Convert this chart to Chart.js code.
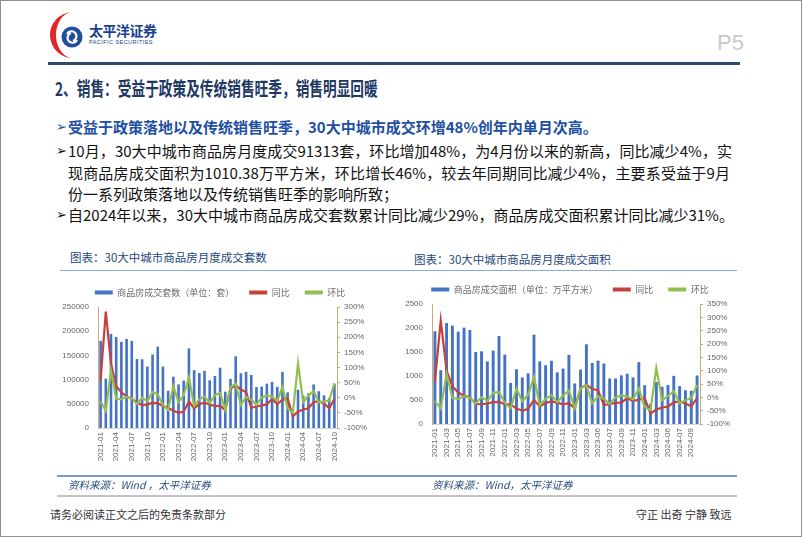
<!DOCTYPE html>
<html><head><meta charset="utf-8">
<script src="https://cdn.jsdelivr.net/npm/chart.js@4.4.1/dist/chart.umd.min.js"></script>
<style>
html,body{margin:0;padding:0;background:#fff;}
#slide{position:relative;width:802px;height:537px;overflow:hidden;background:#fff;font-family:"Noto Sans CJK SC",sans-serif;}
.frame{position:absolute;left:0;top:0;width:802px;height:537px;box-sizing:border-box;border:1px solid #8f8f8f;pointer-events:none;}
.abs{position:absolute;white-space:nowrap;}
.body{font-size:15px;line-height:20px;color:#111;}
.just{text-align:justify;text-align-last:justify;}
.arrow{font-family:"DejaVu Sans",sans-serif;font-size:13px;line-height:20px;}
.rule{position:absolute;}
canvas{position:absolute;}
</style></head><body>
<div id="slide">
  <svg class="abs" style="left:46px;top:11px" width="44" height="48" viewBox="0 0 44 48">
    <path d="M26 1 A23 23 0 0 0 28 47 A17 23 0 0 1 26 1 Z" fill="#E3262B"/>
    <circle cx="26" cy="26" r="10.5" fill="#1F4E9D"/>
    <path d="M21 23 A5 5 0 1 1 27 30" stroke="#fff" stroke-width="2.2" fill="none"/>
    <path d="M31 29 A5 5 0 1 1 25 22" stroke="#fff" stroke-width="2.2" fill="none"/>
  </svg>
  <div class="abs" style="left:89px;top:21px;font-size:14px;font-weight:bold;color:#1B3F8F;letter-spacing:-0.5px;line-height:18px">太平洋证券</div>
  <div class="abs" style="left:89px;top:38px;font-family:'Liberation Sans',sans-serif;font-size:5.6px;color:#1B3F8F;letter-spacing:0.4px;line-height:8px">PACIFIC SECURITIES</div>
  <div class="abs" style="left:717px;top:30px;font-family:'Liberation Sans',sans-serif;font-size:22px;color:#C9C9C9;line-height:26px">P5</div>
  <div class="rule" style="left:48px;top:62px;width:692px;height:3px;background:#2E4B6E"></div>
  <div class="abs" style="left:55px;top:75px;font-size:19px;font-weight:bold;color:#1F3864;line-height:26px;transform:scaleX(0.72);transform-origin:left center">2、销售：受益于政策及传统销售旺季，销售明显回暖</div>

  <div class="abs arrow" style="left:56px;top:117px;color:#1E4FA2">➢</div>
  <div class="abs body" style="left:68px;top:117px;color:#1E4FA2;font-weight:bold">受益于政策落地以及传统销售旺季，30大中城市成交环增48%创年内单月次高。</div>
  <div class="abs arrow" style="left:56px;top:141px;color:#111">➢</div>
  <div class="abs body just" style="left:68px;top:141px;width:664px">10月，30大中城市商品房月度成交91313套，环比增加48%，为4月份以来的新高，同比减少4%，实</div>
  <div class="abs body just" style="left:68px;top:163px;width:662px">现商品房成交面积为1010.38万平方米，环比增长46%，较去年同期同比减少4%，主要系受益于9月</div>
  <div class="abs body" style="left:68px;top:184px">份一系列政策落地以及传统销售旺季的影响所致；</div>
  <div class="abs arrow" style="left:56px;top:205px;color:#111">➢</div>
  <div class="abs body just" style="left:68px;top:205px;width:664px">自2024年以来，30大中城市商品房成交套数累计同比减少29%，商品房成交面积累计同比减少31%。</div>

  <div class="abs" style="left:70px;top:249px;font-size:11.5px;color:#24467A;line-height:16px">图表：30大中城市商品房月度成交套数</div>
  <div class="abs" style="left:414px;top:251px;font-size:11.5px;color:#24467A;line-height:16px">图表：30大中城市商品房月度成交面积</div>
  <div class="rule" style="left:60px;top:270px;width:677px;height:1px;background:#8DA9D5"></div>

  <canvas id="c1" width="350" height="205" style="left:45px;top:273px"></canvas>
  <canvas id="c2" width="350" height="208" style="left:395px;top:270px"></canvas>

  <div class="rule" style="left:57px;top:475px;width:680px;height:2px;background:#7F9CC9"></div>
  <div class="abs" style="left:68px;top:478px;font-size:10.5px;font-style:italic;color:#2B4C7E;line-height:14px">资料来源：Wind ，太平洋证券</div>
  <div class="abs" style="left:432px;top:478px;font-size:10.5px;font-style:italic;color:#2B4C7E;line-height:14px">资料来源：Wind，太平洋证券</div>
  <div class="rule" style="left:57px;top:495px;width:680px;height:2px;background:#C4C4C4"></div>
  <div class="abs" style="left:50px;top:506px;font-size:11px;color:#333;line-height:16px">请务必阅读正文之后的免责条款部分</div>
  <div class="abs" style="left:636px;top:506px;font-size:11px;color:#333;line-height:16px">守正 出奇 宁静 致远</div>
  <div class="frame"></div>
</div>
<script>
const months = ["2021-01","2021-02","2021-03","2021-04","2021-05","2021-06","2021-07","2021-08","2021-09","2021-10","2021-11","2021-12",
"2022-01","2022-02","2022-03","2022-04","2022-05","2022-06","2022-07","2022-08","2022-09","2022-10","2022-11","2022-12",
"2023-01","2023-02","2023-03","2023-04","2023-05","2023-06","2023-07","2023-08","2023-09","2023-10","2023-11","2023-12",
"2024-01","2024-02","2024-03","2024-04","2024-05","2024-06","2024-07","2024-08","2024-09","2024-10"];

const unitsTickLabels = ["2021-01","2021-04","2021-07","2021-10","2022-01","2022-04","2022-07","2022-10","2023-01","2023-04","2023-07","2023-10","2024-01","2024-04","2024-07","2024-10"];
const areaTickLabels = ["2021-01","2021-03","2021-05","2021-07","2021-09","2021-11","2022-01","2022-03","2022-05","2022-07","2022-09","2022-11","2023-01","2023-03","2023-06","2023-07","2023-09","2023-11","2024-01","2024-03","2024-06","2024-07","2024-09"];

const unitsSold = [180000,102000,194500,188000,178000,184000,180000,142500,142000,127000,152000,168000,
127000,77000,106000,90000,98000,164500,119500,113500,118000,98500,107500,124500,
75000,101500,148000,113000,116000,109500,84500,85500,91500,95000,85000,116000,
73500,37000,79000,67000,71500,90000,76000,67500,61700,91313];
const unitsYoY = [58,285,112,38,18,4,-3,-15,-25,-22,-17,-18,
-27,-33,-43,-50,-46,-12,-35,-21,-16,-22,-28,-26,
-41,30,42,27,19,-33,-29,-25,-22,-4,-21,-7,
-2,-61,-46,-39,-35,-15,-11,-19,-35,-4];
const unitsMoM = [-12,-43,90,-3,-5,3,-2,-21,0,-11,19,11,
-24,-40,38,-15,9,68,-27,-5,4,-17,9,16,
-40,35,46,-24,3,-6,-23,1,7,4,-11,36,
-35,-50,114,-15,7,22,-15,-12,-9,48];

const areaSold = [1931,1120,2104,2049,1924,2007,1958,1500,1515,1305,1530,1833,
1445,855,1140,970,1055,1861,1305,1225,1318,1075,1155,1440,
845,1135,1660,1272,1320,1260,948,948,1014,1048,972,1288,
808,420,875,775,812,1003,790,703,692,1010.38];
const areaYoY = [60,288,100,42,18,6,0,-25,-26,-23,-18,-17,
-26,-26,-42,-50,-44,-10,-34,-21,-15,-20,-26,-22,
-41,34,47,32,26,-29,-25,-21,-20,-3,-13,-9,
-3,-61,-46,-38,-35,-19,-15,-24,-33,-4];
const areaMoM = [-14,-42,88,-3,-6,4,-2,-23,1,-14,17,20,
-21,-41,33,-15,9,76,-30,-6,8,-18,7,25,
-41,34,46,-23,4,-5,-25,0,7,3,-7,33,
-37,-48,110,-11,5,23,-21,-11,-2,46];

Chart.defaults.font.family = "'Liberation Sans','Noto Sans CJK SC',sans-serif";
Chart.defaults.animation = false;

const BLUE = '#4472C4', RED = '#C8403E', GREEN = '#93BE50', AXIS = '#C2AD7E', TICK = '#666666';

function legendItems(chart){
  return chart.data.datasets.map((ds,i)=>({
    text: ds.label,
    fillStyle: ds.type==='bar' ? ds.backgroundColor : ds.borderColor,
    strokeStyle: 'rgba(0,0,0,0)', lineWidth: 0, hidden: false,
    datasetIndex: i, fontColor: '#6A6A6A'
  }));
}

function makeChart(id, cfg){
  new Chart(document.getElementById(id), {
    type: 'bar',
    data: { labels: months, datasets: [
      {type:'bar', label: cfg.barLabel, data: cfg.bars, backgroundColor: BLUE, barPercentage: 0.5, categoryPercentage: 1, yAxisID: 'y', order: 3},
      {type:'line', label:'同比', data: cfg.yoy, borderColor: RED, backgroundColor: RED, borderWidth: 2.2, pointRadius: 0, tension: 0, yAxisID: 'y1', order: 2},
      {type:'line', label:'环比', data: cfg.mom, borderColor: GREEN, backgroundColor: GREEN, borderWidth: 2.2, pointRadius: 0, tension: 0, yAxisID: 'y1', order: 1}
    ]},
    options: {
      responsive: false, maintainAspectRatio: false, animation: false,
      layout: { padding: 0 },
      plugins: {
        legend: { position: 'top', labels: { boxWidth: 18, boxHeight: 4, padding: 15, color: '#6A6A6A',
          font: { size: 9, family: "'Noto Sans CJK SC',sans-serif" }, generateLabels: legendItems } },
        tooltip: { enabled: false }
      },
      scales: {
        x: {
          grid: { display: false, drawTicks: false },
          border: { display: true, color: '#D9D9D9' },
          ticks: { autoSkip: false, minRotation: 90, maxRotation: 90, padding: 4, color: TICK, font: { size: 8 },
            callback: (v, i) => i % cfg.every === 0 ? cfg.tickLabels[i / cfg.every] : '' },
          afterFit: s => { s.height = cfg.xH; }
        },
        y: {
          position: 'left', min: 0, max: cfg.yMax,
          grid: { display: false, drawTicks: false },
          border: { display: true, color: AXIS },
          ticks: { stepSize: cfg.yStep, padding: 9, color: TICK, font: { size: 8 }, callback: v => String(v) },
          afterFit: s => { s.width = cfg.yW; }
        },
        y1: {
          position: 'right', min: -100, max: cfg.pMax,
          grid: { display: true, drawOnChartArea: false, drawTicks: true, tickLength: 3, color: AXIS },
          border: { display: true, color: AXIS },
          ticks: { stepSize: 50, padding: 4, color: TICK, font: { size: 8 }, callback: v => v + '%' },
          afterFit: s => { s.width = cfg.y1W; }
        }
      }
    }
  });
}

makeChart('c1', { barLabel: '商品房成交套数（单位：套）', bars: unitsSold, yoy: unitsYoY, mom: unitsMoM,
  tickLabels: unitsTickLabels, every: 3, yMax: 250000, yStep: 50000, pMax: 300, yW: 53, y1W: 58, xH: 50 });
makeChart('c2', { barLabel: '商品房成交面积（单位：万平方米）', bars: areaSold, yoy: areaYoY, mom: areaMoM,
  tickLabels: areaTickLabels, every: 2, yMax: 2500, yStep: 500, pMax: 350, yW: 37, y1W: 45, xH: 54 });
</script>
</body></html>
